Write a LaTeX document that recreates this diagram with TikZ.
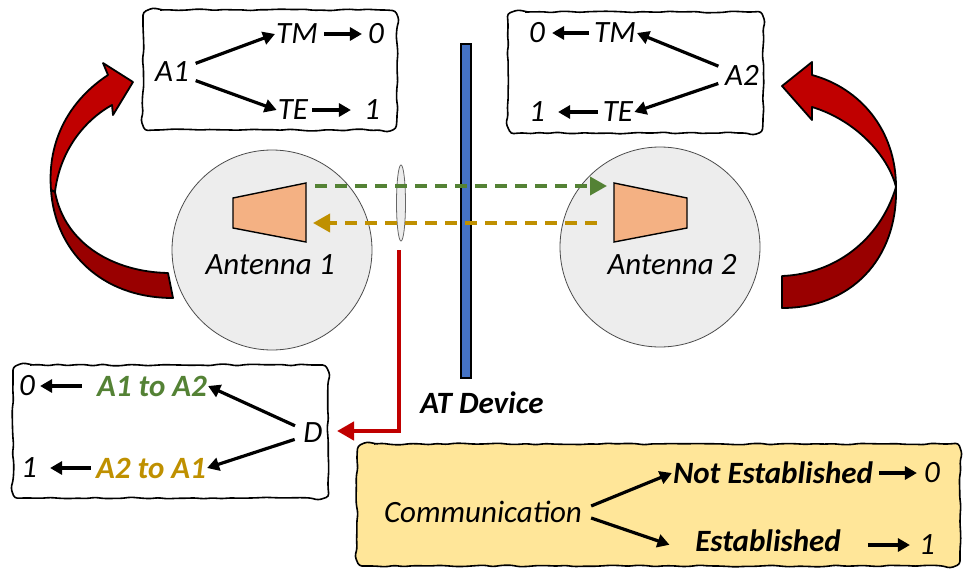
\documentclass[tikz,border=0pt]{standalone}
\usepackage{fontspec}
\setmainfont{Carlito}
\usetikzlibrary{arrows.meta,decorations.pathmorphing}

\definecolor{arcred}{HTML}{C00000}
\definecolor{arcdark}{HTML}{990000}
\definecolor{grn}{HTML}{548235}
\definecolor{gld}{HTML}{BF9000}
\definecolor{peach}{HTML}{F4B183}
\definecolor{disc}{HTML}{EDEDED}
\definecolor{devbar}{HTML}{4472C4}
\definecolor{note}{HTML}{FFE699}

\newcommand{\sketchframe}[5][]{%
\draw[sketchbox,#1] (#2+14,#3) -- (#4-14,#3) .. controls (#4-6,#3) and (#4,#3+6) .. (#4,#3+14)
  -- (#4,#5-14) .. controls (#4,#5-6) and (#4-6,#5) .. (#4-14,#5)
  -- (#2+14,#5) .. controls (#2+6,#5) and (#2,#5-6) .. (#2,#5-14)
  -- (#2,#3+14) .. controls (#2,#3+6) and (#2+6,#3) .. (#2+14,#3) -- cycle;}

\begin{document}
\begin{tikzpicture}[x=1pt,y=-1pt,
  every node/.style={font=\fontsize{31}{36}\selectfont\itshape, inner sep=1pt},
  bld/.style={font=\fontsize{31}{36}\selectfont\bfseries\itshape},
  arr/.style={line width=3.2pt,-{Triangle[length=12pt,width=13pt]}},
  sketchbox/.style={line width=1.6pt, rounded corners=3pt, decorate,
    decoration={random steps,segment length=9pt,amplitude=0.9pt}},
  ribbon/.style={draw=black,line width=1.8pt,line join=round},
  beam/.style={line width=3.6pt,dash pattern=on 12pt off 8pt,-{Triangle[length=17pt,width=18pt]}}]

\pgfmathsetseed{7}
\useasboundingbox (0,0) rectangle (964,570);

% boxes
\sketchframe{143}{10}{397}{130}
\sketchframe{508}{12}{763}{133}
\sketchframe{13}{365}{328}{498}
\sketchframe[fill=note]{357}{444}{960}{566}

% curved arrows
\fill[arcred,ribbon] (51,190) .. controls (47,140) and (70,100) .. (108,75) -- (103,63) -- (133,82)
  -- (113,115) -- (112,105) .. controls (85,120) and (60,150) .. (55,192) -- cycle;
\fill[arcdark,ribbon] (51,190) .. controls (55,250) and (100,298) .. (173,298) -- (168,273)
  .. controls (115,272) and (65,245) .. (55,192) -- cycle;
\fill[arcred,ribbon] (812,75) .. controls (860,88) and (896,130) .. (896,187)
  .. controls (888,155) and (855,120) .. (812,107) -- (812,120) -- (782,86) -- (812,62) -- cycle;
\fill[arcdark,ribbon] (896,187) .. controls (898,260) and (850,308) .. (782,308) -- (782,276)
  .. controls (835,274) and (880,240) .. (896,187) -- cycle;

% antennas
\draw[fill=disc,draw=black!70,line width=0.8pt] (272,250) circle (100);
\draw[fill=disc,draw=black!70,line width=0.8pt] (660,247) circle (100);

\coordinate (v0) at (233,198);
\coordinate (v1) at (306,183);
\coordinate (v2) at (306,242);
\coordinate (v3) at (233,228);
\coordinate (w0) at (614,183);
\coordinate (w1) at (687,198);
\coordinate (w2) at (687,228);
\coordinate (w3) at (614,242);
\draw[fill=peach,line width=1.4pt] (v0)--(v1)--(v2)--(v3)--cycle;
\draw[fill=peach,line width=1.4pt] (w0)--(w1)--(w2)--(w3)--cycle;

\node (ant1) at (270,265) {Antenna 1};
\node (ant2) at (672,265) {Antenna 2};

% device
\draw[fill=disc,draw=black!60,line width=0.8pt] (401,203) ellipse (4.5 and 38);
\draw[fill=devbar,line width=1.2pt] (461,44) rectangle (471,378);
\node[bld] (dev) at (482,403) {AT Device};

\coordinate (g1) at (315,186);
\coordinate (g2) at (607,186);
\coordinate (y1) at (597,223);
\coordinate (y2) at (313,223);
\draw[beam,grn] (g1) -- (g2);
\draw[beam,gld] (y1) -- (y2);

\coordinate (r1) at (399,250);
\coordinate (r2) at (337,431);
\draw[arcred,line width=4.5pt,-{Triangle[length=17pt,width=18pt]}] (r1) |- (r2);

% A1
\node (a1) at (172,72) {A1};
\node (tm1) at (297,34) {TM};
\node (z1) at (376,34) {0};
\node (te1) at (293,110) {TE};
\node (o1) at (372,110) {1};
\draw[arr,shorten <=6pt] (a1.20) -- (tm1.west);
\draw[arr,shorten <=6pt] (a1.-20) -- (te1.west);
\draw[arr,shorten <=5pt,shorten >=5pt] (tm1) -- (z1);
\draw[arr,shorten <=3pt,shorten >=12pt] (te1) -- (o1);

% A2
\node (z2) at (537,33) {0};
\node (tm2) at (615,33) {TM};
\node (a2) at (742,75) {A2};
\node (o2) at (537,112) {1};
\node (te2) at (618,112) {TE};
\draw[arr,shorten <=6pt] (a2.160) -- (tm2.east);
\draw[arr,shorten <=6pt] (a2.200) -- (te2.east);
\draw[arr,shorten <=4pt,shorten >=6pt] (tm2) -- (z2);
\draw[arr,shorten <=4pt,shorten >=12pt] (te2) -- (o2);

% D
\node (z3) at (27,386) {0};
\node[bld,text=grn] (g12) at (152,386) {A1 to A2};
\node (d) at (313,433) {D};
\node[bld,text=gld] (g21) at (151,468) {A2 to A1};
\node (o3) at (29,468) {1};
\draw[arr,shorten <=14pt,shorten >=4pt] (g12) -- (z3);
\draw[arr,shorten <=4pt,shorten >=12pt] (g21) -- (o3);
\draw[arr,shorten <=8pt] (d.160) -- (g12.east);
\draw[arr,shorten <=8pt] (d.200) -- (g21.east);

% communication
\node (com) at (483,512) {Communication};
\node[bld] (ne) at (773,473) {Not Established};
\node (zc) at (932,473) {0};
\node[bld] (est) at (768,541) {Established};
\node (oc) at (927,545) {1};
\draw[arr] ([yshift=6pt,xshift=8pt]com.east) -- (ne.west);
\draw[arr,shorten >=26pt] ([yshift=-6pt,xshift=8pt]com.east) -- (est.south west);
\draw[arr,shorten <=5pt,shorten >=6pt] (ne) -- (zc);
\draw[arr,shorten <=26pt,shorten >=8pt] (est.east |- oc) -- (oc);
\end{tikzpicture}
\end{document}
